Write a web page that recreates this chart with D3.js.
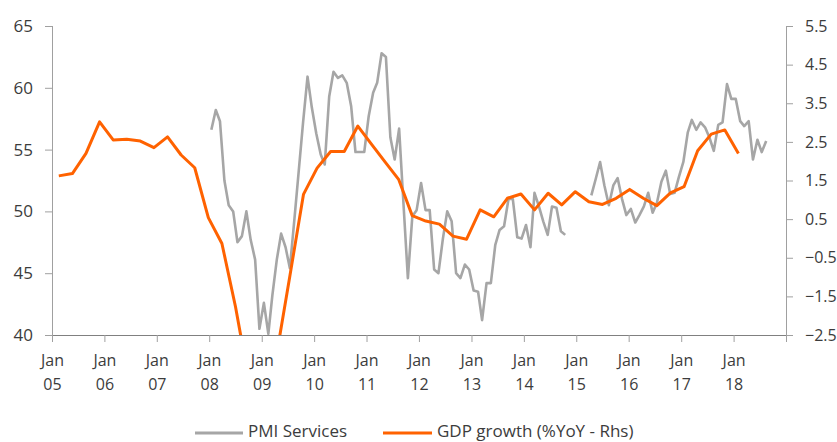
<!DOCTYPE html>
<html><head><meta charset="utf-8">
<script src="https://cdn.jsdelivr.net/npm/d3@7"></script>
<style>
body{margin:0;background:#fff}
text{font-family:"Open Sans",sans-serif;fill:#3c3c3c}
</style>
</head><body>
<svg id="c" width="837" height="442"></svg>
<script>
// ---- data ----
const yearTicks = [2005,2006,2007,2008,2009,2010,2011,2012,2013,2014,2015,2016,2017,2018];
const leftTicks = [40,45,50,55,60,65];
const rightTicks = [-2.5,-1.5,-0.5,0.5,1.5,2.5,3.5,4.5,5.5];

// PMI Services, monthly from Jan 2008 (null = no data)
const pmiStartYear = 2008;
const pmiValues = [
  56.6,58.2,57.3,52.5,50.5,50.0,47.5,48.0,50.0,47.7,46.1,40.5, // 2008
  42.6,40.1,43.2,46.1,48.2,47.1,45.4,49.3,53.3,57.2,60.9,58.4, // 2009
  56.3,54.6,53.8,59.3,61.3,60.8,61.0,60.4,58.5,54.8,54.8,54.8, // 2010
  57.7,59.6,60.4,62.8,62.5,56.0,54.2,56.7,50.5,44.6,49.6,50.1, // 2011
  52.3,50.1,50.1,45.3,45.0,47.8,50.0,49.2,45.0,44.6,45.7,45.3, // 2012
  43.6,43.5,41.2,44.2,44.2,47.3,48.5,48.8,51.0,51.0,47.9,47.8, // 2013
  48.9,47.1,51.5,50.4,49.2,48.1,50.4,50.3,48.4,48.1,null,null, // 2014
  null,null,null,51.3,52.6,54.0,52.1,50.5,52.1,52.7,51.0,49.7, // 2015
  50.2,49.1,49.7,50.4,51.5,49.9,50.7,52.4,53.3,51.4,51.5,52.8, // 2016
  54.0,56.4,57.4,56.6,57.2,56.8,56.0,54.9,57.0,57.2,60.3,59.1, // 2017
  59.1,57.3,56.9,57.3,54.2,55.8,54.8,55.7                      // 2018
];

// GDP growth %YoY, quarterly from Q1 2005 (secondary category axis)
const gdpQuarters = [];
for (let y = 2005; y <= 2018; y++) for (let q = 1; q <= 4; q++) if (gdpQuarters.length < 54) gdpQuarters.push("Q" + q + " " + y);
const gdpValues = [
  1.62,1.68,2.20,3.02,2.55,2.57,2.52,2.35,2.63,2.16,
  1.83,0.54,-0.13,-1.77,-3.70,-4.20,-3.06,-0.97,1.14,1.82,
  2.25,2.25,2.91,2.44,1.98,1.53,0.59,0.45,0.37,0.06,
  -0.02,0.74,0.56,1.04,1.15,0.74,1.17,0.87,1.21,0.95,
  0.88,1.04,1.27,1.04,0.85,1.18,1.34,2.27,2.70,2.81,2.20
];

const seriesNames = ["PMI Services", "GDP growth (%YoY - Rhs)"];
const colors = {pmi:"#a6a6a6", gdp:"#ff6200"};

// ---- layout ----
const L = 52, R = 786, T = 26, B = 335;
const svg = d3.select("#c");

const x = d3.scaleTime().domain([new Date(2005,0,1), new Date(2019,0,1)]).range([L, R]);
const xq = d3.scalePoint().domain(gdpQuarters).range([L, R]).padding(0.5);
const yL = d3.scaleLinear().domain([40,65]).range([B, T]);
const yR = d3.scaleLinear().domain([-2.5,5.5]).range([B, T]);

svg.append("defs").append("clipPath").attr("id","clip")
  .append("rect").attr("x",L).attr("y",T-5).attr("width",R-L).attr("height",B-T+5);

// axes
const gx = svg.append("g").attr("transform",`translate(0,${B})`)
  .call(d3.axisBottom(x).tickValues(yearTicks.map(y=>new Date(y,0,1))).tickSize(7).tickPadding(10).tickFormat(""));
gx.select(".domain").attr("d", `M${L-7},0.5H${R+7}`).attr("stroke","#808080");
gx.selectAll(".tick line").attr("stroke","#a0a0a0");
gx.selectAll(".tick").each(function(d){
  const t = d3.select(this).append("text").attr("text-anchor","middle").style("font-size","16px");
  t.append("tspan").attr("x",0).attr("y",31).text("Jan");
  t.append("tspan").attr("x",0).attr("y",55).text(String(d.getFullYear()).slice(2));
});

const gl = svg.append("g").attr("transform",`translate(${L},0)`)
  .call(d3.axisLeft(yL).tickValues(leftTicks).tickSize(7).tickPadding(12));
gl.select(".domain").attr("d", `M0.5,${T}V${B+7}`).attr("stroke","#a0a0a0");
gl.selectAll(".tick line").attr("stroke","#a0a0a0");
gl.selectAll("text").style("font-size","17px").style("font-family","'Open Sans',sans-serif").attr("fill","#3c3c3c");

const gr = svg.append("g").attr("transform",`translate(${R},0)`)
  .call(d3.axisRight(yR).tickValues(rightTicks).tickSize(7).tickPadding(12).tickFormat(d3.format(".1f")));
gr.select(".domain").attr("d", `M0.5,${T}V${B+7}`).attr("stroke","#a0a0a0");
gr.selectAll(".tick line").attr("stroke","#a0a0a0");
gr.selectAll("text").style("font-size","16px").style("font-family","'Open Sans',sans-serif").attr("fill","#3c3c3c");

// lines
const pmiData = pmiValues.map((v,i)=>({date:new Date(pmiStartYear, i, 16), v}));
const gdpData = gdpValues.map((v,i)=>({q:gdpQuarters[i], v}));

const plot = svg.append("g").attr("clip-path","url(#clip)");
plot.append("path").datum(pmiData)
  .attr("fill","none").attr("stroke",colors.pmi).attr("stroke-width",2.6).attr("stroke-linejoin","round")
  .attr("d", d3.line().defined(d=>d.v!=null).x(d=>x(d.date)).y(d=>yL(d.v)));
plot.append("path").datum(gdpData)
  .attr("fill","none").attr("stroke",colors.gdp).attr("stroke-width",3).attr("stroke-linejoin","round")
  .attr("d", d3.line().x(d=>xq(d.q)).y(d=>yR(d.v)));

// legend
const leg = svg.append("g");
const items = [{name:seriesNames[0], c:colors.pmi, x0:195, x1:243}, {name:seriesNames[1], c:colors.gdp, x0:383, x1:432}];
items.forEach(it=>{
  leg.append("line").attr("x1",it.x0).attr("x2",it.x1).attr("y1",433).attr("y2",433)
    .attr("stroke",it.c).attr("stroke-width",3);
  leg.append("text").attr("x",it.x1+5).attr("y",437).style("font-size","17px").text(it.name);
});
</script>
</body></html>
